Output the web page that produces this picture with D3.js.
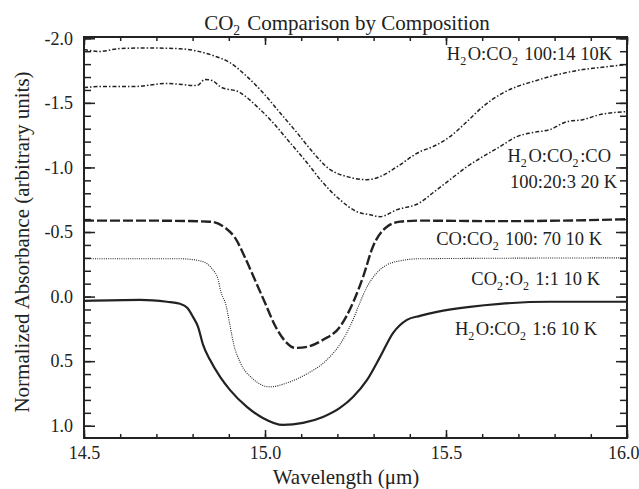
<!DOCTYPE html>
<html><head><meta charset="utf-8">
<script src="https://cdn.jsdelivr.net/npm/d3@7"></script>
<style>
body{margin:0;background:#fff;}
text{font-family:"Liberation Serif","Times New Roman",serif;fill:#222;}
</style></head>
<body><svg id="c" width="639" height="489"></svg>
<script>
// Wavelength (µm) / normalized absorbance for each series
const h2oco2_100_14_wl = [14.5,14.544,14.6,14.682,14.765,14.856,14.903,14.95,14.994,15.041,15.088,15.133,15.18,15.227,15.282,15.318,15.365,15.428,15.464,15.511,15.558,15.602,15.649,15.696,15.74,15.787,15.834,15.878,15.925,16.0];
const h2oco2_100_14_v  = [-1.913,-1.898,-1.921,-1.925,-1.919,-1.867,-1.812,-1.704,-1.58,-1.425,-1.27,-1.115,-0.983,-0.929,-0.905,-0.929,-1.006,-1.122,-1.161,-1.239,-1.355,-1.471,-1.564,-1.626,-1.665,-1.704,-1.735,-1.758,-1.774,-1.797];

const h2oco2co_wl = [14.5,14.544,14.635,14.729,14.812,14.834,14.854,14.876,14.931,14.978,15.022,15.069,15.116,15.16,15.207,15.254,15.29,15.318,15.365,15.428,15.464,15.511,15.558,15.602,15.649,15.696,15.74,15.787,15.834,15.878,15.925,16.0];
const h2oco2co_v  = [-1.619,-1.626,-1.626,-1.65,-1.634,-1.681,-1.673,-1.626,-1.58,-1.471,-1.347,-1.192,-1.037,-0.882,-0.75,-0.657,-0.634,-0.619,-0.673,-0.727,-0.804,-0.905,-1.006,-1.084,-1.161,-1.239,-1.27,-1.293,-1.355,-1.37,-1.409,-1.432];

const coco2_wl = [14.5,14.682,14.848,14.89,14.917,14.945,14.972,15.0,15.028,15.055,15.083,15.116,15.16,15.207,15.243,15.271,15.298,15.337,15.373,15.428,15.649,15.815,16.0];
const coco2_v  = [-0.588,-0.588,-0.58,-0.533,-0.456,-0.301,-0.13,0.048,0.226,0.343,0.397,0.389,0.335,0.234,0.048,-0.153,-0.386,-0.541,-0.58,-0.588,-0.584,-0.588,-0.599];

const co2o2_wl = [14.5,14.765,14.82,14.84,14.856,14.87,14.878,14.892,14.903,14.914,14.931,14.967,15.014,15.061,15.116,15.171,15.215,15.243,15.262,15.282,15.309,15.337,15.373,15.428,16.0];
const co2o2_v  = [-0.293,-0.293,-0.277,-0.254,-0.207,-0.138,-0.037,0.064,0.219,0.374,0.506,0.638,0.699,0.668,0.598,0.49,0.335,0.18,0.048,-0.076,-0.184,-0.246,-0.277,-0.293,-0.3];

const h2oco2_1_6_wl = [14.5,14.655,14.729,14.765,14.785,14.801,14.815,14.829,14.848,14.876,14.903,14.95,14.994,15.05,15.105,15.16,15.207,15.243,15.282,15.318,15.354,15.392,15.428,15.475,15.566,15.649,15.787,16.0];
const h2oco2_1_6_v  = [0.033,0.025,0.04,0.056,0.087,0.157,0.234,0.374,0.49,0.622,0.722,0.854,0.94,0.994,0.978,0.932,0.862,0.777,0.645,0.467,0.281,0.18,0.149,0.118,0.079,0.056,0.04,0.04];

const xMajorTicks = [14.5,15.0,15.5,16.0];
const yMajorTicks = [-2.0,-1.5,-1.0,-0.5,0.0,0.5,1.0];
const chartTitle = "Comparison by Composition";

const svg = d3.select("#c");
const L=84,R=627,T=37,B=438;
const x = d3.scaleLinear().domain([14.5,16.0]).range([L,R]);
const y = d3.scaleLinear().domain([-2.01,1.095]).range([T,B]);

const xMinor = d3.range(0,16).map(i=>+(14.5+i*0.1).toFixed(2)).filter(v=>v<=16.0);
const yMinor = d3.range(0,32).map(i=>+(-2.0+i*0.1).toFixed(2)).filter(v=>v<=1.09);

function styleAxis(g){ g.select(".domain").remove(); g.selectAll("line").attr("stroke","#222").attr("stroke-width",1.5); g.selectAll("text").style("font-size","18px").attr("fill","#222").style("font-family","'Liberation Serif',serif"); }

// bottom
svg.append("g").attr("transform",`translate(0,${B})`).call(d3.axisBottom(x).tickValues(xMinor).tickSize(-4).tickFormat("")).call(styleAxis);
const xb = svg.append("g").attr("transform",`translate(0,${B})`).call(d3.axisBottom(x).tickValues(xMajorTicks).tickSize(-8).tickPadding(8).tickFormat(d3.format(".1f"))).call(styleAxis);
xb.selectAll(".tick").filter(d=>d===16.0).select("text").attr("text-anchor","end").attr("x",12);
// top
svg.append("g").attr("transform",`translate(0,${T})`).call(d3.axisTop(x).tickValues(xMinor).tickSize(-4).tickFormat("")).call(styleAxis);
svg.append("g").attr("transform",`translate(0,${T})`).call(d3.axisTop(x).tickValues(xMajorTicks).tickSize(-8).tickFormat("")).call(styleAxis);
// left
svg.append("g").attr("transform",`translate(${L},0)`).call(d3.axisLeft(y).tickValues(yMinor).tickSize(-7).tickFormat("")).call(styleAxis);
svg.append("g").attr("transform",`translate(${L},0)`).call(d3.axisLeft(y).tickValues(yMajorTicks).tickSize(-11).tickPadding(11).tickFormat(d=>d3.format(".1f")(d).replace("\u2212","-"))).call(styleAxis);
// right
svg.append("g").attr("transform",`translate(${R},0)`).call(d3.axisRight(y).tickValues(yMinor).tickSize(-7).tickFormat("")).call(styleAxis);
svg.append("g").attr("transform",`translate(${R},0)`).call(d3.axisRight(y).tickValues(yMajorTicks).tickSize(-11).tickFormat("")).call(styleAxis);

// frame
svg.append("rect").attr("x",L).attr("y",T).attr("width",R-L).attr("height",B-T).attr("fill","none").attr("stroke","#222").attr("stroke-width",2);

const line = d3.line().x(d=>x(d[0])).y(d=>y(d[1])).curve(d3.curveMonotoneX);
function series(wl,v,dash,w){
  svg.append("path").datum(wl.map((d,i)=>[d,v[i]])).attr("d",line).attr("fill","none")
    .attr("stroke","#222").attr("stroke-width",w).attr("stroke-dasharray",dash);
}
series(h2oco2_100_14_wl,h2oco2_100_14_v,"4,2,1.5,2",1.5);
series(h2oco2co_wl,h2oco2co_v,"4,2,1.5,2",1.5);
series(coco2_wl,coco2_v,"10,3",2.4);
series(co2o2_wl,co2o2_v,"1,1.2",1.1);
series(h2oco2_1_6_wl,h2oco2_1_6_v,null,2.2);

// rich labels with subscripts
function rich(xp,yp,parts,size,anchor){
  const t = svg.append("text").attr("x",xp).attr("y",yp).attr("text-anchor",anchor||"end").style("font-size",size+"px");
  parts.forEach(p=>{
    if(typeof p==="string") t.append("tspan").text(p);
    else { t.append("tspan").attr("dy",5).style("font-size",(size*0.65)+"px").text(p.sub);
           t.append("tspan").attr("dy",-5).text("\u200A"); }
  });
  return t;
}
rich(347,30,["CO",{sub:"2"}," "+chartTitle],21,"middle");
rich(612,60,["H",{sub:"2"},"O:CO",{sub:"2"}," 100:14 10K"],18.5);
rich(611,162,["H",{sub:"2"},"O:CO",{sub:"2"},":CO"],18.5);
rich(617,188,["100:20:3 20 K"],18.5);
rich(602,245,["CO:CO",{sub:"2"}," 100: 70 10 K"],18.5);
rich(600,285,["CO",{sub:"2"},":O",{sub:"2"}," 1:1 10 K"],18.5);
rich(597,335,["H",{sub:"2"},"O:CO",{sub:"2"}," 1:6 10 K"],18.5);

svg.append("text").attr("x",346).attr("y",484).attr("text-anchor","middle").style("font-size","21px").text("Wavelength (\u03BCm)");
svg.append("text").attr("transform","translate(29,242) rotate(-90)").attr("text-anchor","middle").style("font-size","21px").text("Normalized Absorbance (arbitrary units)");
</script></body></html>
